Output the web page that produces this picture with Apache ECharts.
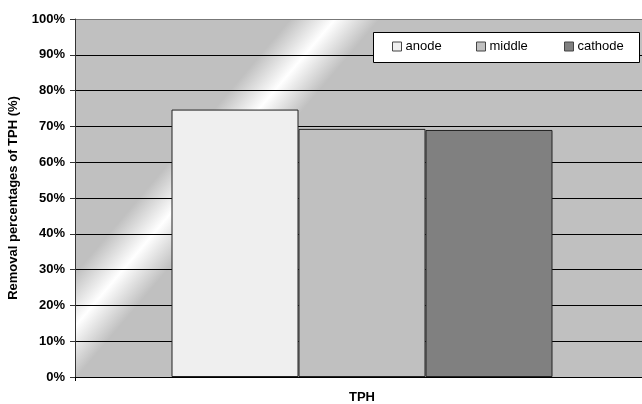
<!DOCTYPE html>
<html>
<head>
<meta charset="utf-8">
<script src="https://cdn.jsdelivr.net/npm/echarts@6/dist/echarts.min.js"></script>
<style>html,body{margin:0;padding:0;background:#fff;}#c{width:642px;height:404px;}</style>
</head>
<body>
<div id="c"></div>
<script>
var categories = ['TPH'];
var seriesNames = ['anode', 'middle', 'cathode'];
var anodeValues = [74.7];
var middleValues = [69.3];
var cathodeValues = [69.0];
var yTickLabels = ['0%','10%','20%','30%','40%','50%','60%','70%','80%','90%','100%'];

var colors = ['#efefef', '#c0c0c0', '#808080'];
var chart = echarts.init(document.getElementById('c'));

function mkSeries(name, data, color) {
  return {
    name: name, type: 'bar', data: data, barGap: '0%', barWidth: 127,
    itemStyle: { color: color, borderColor: '#222', borderWidth: 1 },
    emphasis: { disabled: true }, animation: false
  };
}

var legendPos = [392, 476, 564];
var legends = seriesNames.map(function (n, i) {
  return {
    data: [n], left: legendPos[i], top: 40, padding: 0, z: 20,
    itemWidth: 9, itemHeight: 9, itemGap: 0,
    icon: 'rect',
    textStyle: { fontFamily: 'Liberation Sans, Arial', fontSize: 13, color: '#000', padding: [0, 0, 0, -1] },
    itemStyle: { borderColor: '#444', borderWidth: 1 },
    selectedMode: false
  };
});

chart.setOption({
  animation: false,
  backgroundColor: '#fff',
  grid: {
    left: 75, right: -7, top: 19, bottom: 27, show: true, borderWidth: 0,
    outerBoundsMode: 'none', containLabel: false,
    backgroundColor: {
      type: 'linear', global: true,
      x: 178, y: 152, x2: 230, y2: 196,
      colorStops: [
        { offset: 0, color: '#c0c0c0' },
        { offset: 0.5, color: '#ffffff' },
        { offset: 1, color: '#c0c0c0' }
      ]
    }
  },
  graphic: [{
    type: 'rect', left: 373, top: 32, z: 5,
    shape: { width: 266, height: 30 },
    style: { fill: '#fff', stroke: '#000', lineWidth: 1 }
  }],
  legend: legends,
  xAxis: {
    type: 'category', data: categories,
    name: 'TPH', nameLocation: 'middle', nameGap: 14,
    nameTextStyle: { fontFamily: 'Liberation Sans, Arial', fontWeight: 'bold', fontSize: 13, color: '#000' },
    axisLine: { lineStyle: { color: '#000', width: 1 } },
    axisTick: { show: true, length: 4, lineStyle: { color: '#000' } },
    axisLabel: { show: false },
    boundaryGap: true
  },
  yAxis: {
    type: 'value', min: 0, max: 100, interval: 10,
    name: 'Removal percentages of TPH (%)', nameLocation: 'middle', nameGap: 55, nameRotate: 90,
    nameTextStyle: { fontFamily: 'Liberation Sans, Arial', fontWeight: 'bold', fontSize: 13, color: '#000' },
    axisLine: { show: true, lineStyle: { color: '#333', width: 1 } },
    axisTick: { show: true, length: 5, lineStyle: { color: '#333' } },
    axisLabel: {
      margin: 10, fontFamily: 'Liberation Sans, Arial', fontWeight: 'bold', fontSize: 13, color: '#000',
      formatter: function (v) { return yTickLabels[Math.round(v / 10)]; }
    },
    splitLine: { show: true, lineStyle: { color: ['#000','#000','#000','#000','#000','#000','#000','#000','#000','#000','#777'], width: 1 } }
  },
  series: [
    mkSeries(seriesNames[0], anodeValues, colors[0]),
    mkSeries(seriesNames[1], middleValues, colors[1]),
    mkSeries(seriesNames[2], cathodeValues, colors[2])
  ]
});
</script>
</body>
</html>
